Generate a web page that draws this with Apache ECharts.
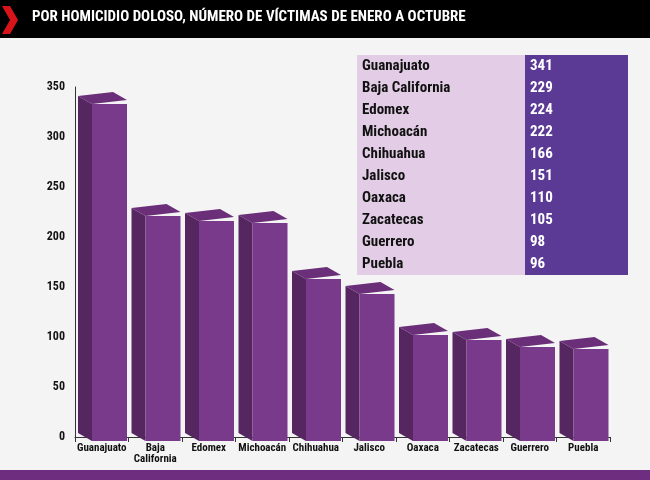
<!DOCTYPE html>
<html><head><meta charset="utf-8">
<script src="https://cdn.jsdelivr.net/npm/echarts@6/dist/echarts.min.js"></script>
<style>html,body{margin:0;padding:0;background:#f4f4f4}#main{width:650px;height:480px}</style>
</head><body><div id="main"></div>
<script>
// datos
var estados = ['Guanajuato','Baja California','Edomex','Michoacán','Chihuahua','Jalisco','Oaxaca','Zacatecas','Guerrero','Puebla'];
var etiquetas = ['Guanajuato','Baja\nCalifornia','Edomex','Michoacán','Chihuahua','Jalisco','Oaxaca','Zacatecas','Guerrero','Puebla'];
var victimas = [341,229,224,222,166,151,110,105,98,96];
var ticks = [0,50,100,150,200,250,300,350];

var myChart = echarts.init(document.getElementById('main'));
var fuente = 'Roboto Condensed, "Liberation Sans Narrow", "DejaVu Sans Condensed", sans-serif';

// tabla
var tabla = [];
estados.forEach(function (e, i) {
    var y = 57 + i * 22;
    tabla.push({type:'text', left:362, top:y+2, style:{text:e, font:'bold 15px '+fuente, fill:'#111'}});
    tabla.push({type:'text', left:530, top:y+2, style:{text:String(victimas[i]), font:'bold 15px '+fuente, fill:'#fff'}});
});

var option = {
    backgroundColor: '#f4f4f4',
    graphic: [
        {type:'rect', shape:{x:0,y:0,width:650,height:38}, style:{fill:'#000'}},
        {type:'polygon', shape:{points:[[2,6],[10,6],[18,20],[10,34],[2,34],[10,20]]}, style:{fill:'#d7141a'}},
        {type:'text', left:32, top:10, style:{text:'POR HOMICIDIO DOLOSO, NÚMERO DE VÍCTIMAS DE ENERO A OCTUBRE', font:'bold 15px '+fuente, fill:'#fff'}},
        {type:'rect', shape:{x:0,y:470,width:650,height:10}, style:{fill:'#6e2d7e'}},
        {type:'rect', shape:{x:357,y:55,width:168,height:220}, style:{fill:'#e3cde6'}},
        {type:'rect', shape:{x:525,y:55,width:103,height:220}, style:{fill:'#5b3a95'}},
        {type:'group', children: tabla}
    ],
    grid: {left:75, right:40, top:87, bottom:43},
    xAxis: {
        type:'category', data: etiquetas,
        axisLine:{lineStyle:{color:'#333'}}, axisTick:{show:true, lineStyle:{color:'#333'}},
        axisLabel:{color:'#111', fontWeight:'bold', fontSize:11, fontFamily:fuente, interval:0, margin:6}
    },
    yAxis: {
        type:'value', min:0, max:350, interval:50,
        axisLine:{show:true, lineStyle:{color:'#333'}}, splitLine:{show:false},
        axisLabel:{color:'#111', fontWeight:'bold', fontSize:12, fontFamily:fuente, margin:10}
    },
    series: [{
        type:'custom',
        data: victimas,
        renderItem: function (params, api) {
            var top = api.coord([api.value(0), api.value(1)]);
            var base = api.coord([api.value(0), 0]);
            var w = api.size([1, 0])[0];
            var x0 = top[0] - w/2 + 3, side = 14, fw = 35;
            var fx = x0 + side;
            return {type:'group', children:[
                {type:'polygon', shape:{points:[[x0,top[1]],[fx,top[1]+8],[fx,base[1]+4],[x0,base[1]-4]]}, style:{fill:'#55265f'}},
                {type:'polygon', shape:{points:[[x0,top[1]],[x0+side+fw-14,top[1]-4],[fx+fw,top[1]+4],[fx,top[1]+8]]}, style:{fill:'#6a2f78'}},
                {type:'rect', shape:{x:fx, y:top[1]+8, width:fw, height:base[1]-top[1]-4}, style:{fill:'#7a3a8c'}}
            ]};
        }
    }]
};
myChart.setOption(option);
</script></body></html>
